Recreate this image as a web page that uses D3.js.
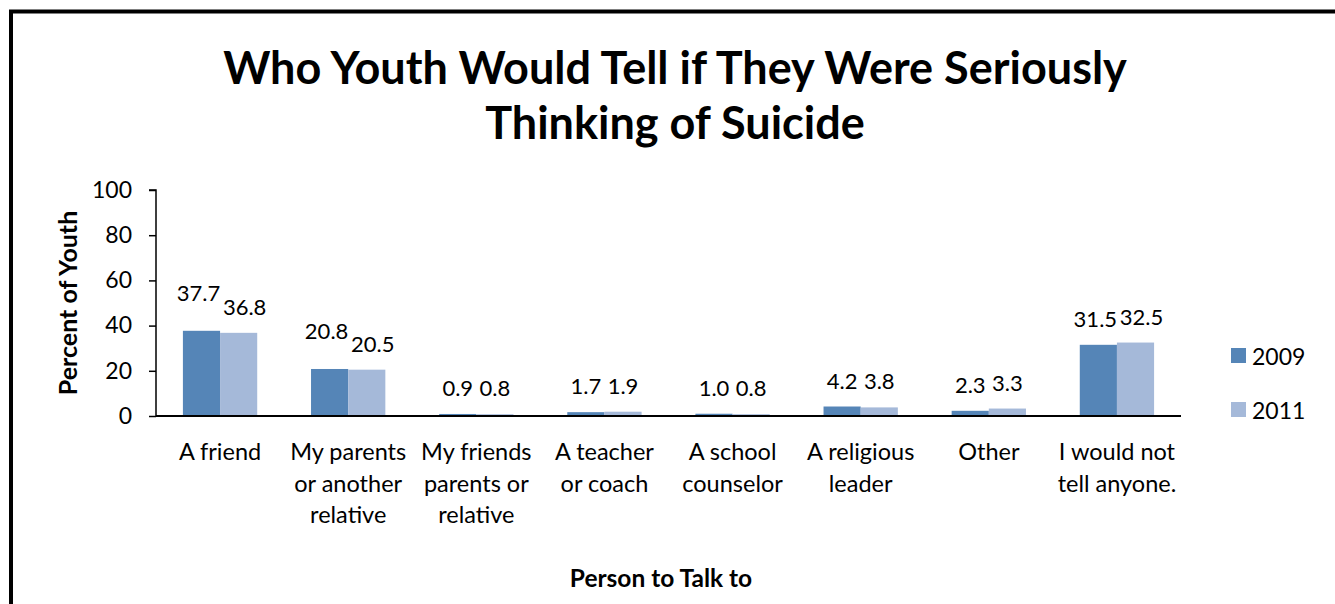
<!DOCTYPE html>
<html>
<head>
<meta charset="utf-8">
<script src="https://cdn.jsdelivr.net/npm/d3@7"></script>
<style>
  body { margin: 0; background: #fff; }
  text { font-family: Lato, "Open Sans", sans-serif; fill: #000; }
</style>
</head>
<body>
<div id="chart"></div>
<script>
var categories = [
    ["A friend"],
    ["My parents", "or another", "relative"],
    ["My friends", "parents or", "relative"],
    ["A teacher", "or coach"],
    ["A school", "counselor"],
    ["A religious", "leader"],
    ["Other"],
    ["I would not", "tell anyone."]
];
var seriesNames = ["2009", "2011"];
var values2009 = [37.7, 20.8, 0.9, 1.7, 1.0, 4.2, 2.3, 31.5];
var values2011 = [36.8, 20.5, 0.8, 1.9, 0.8, 3.8, 3.3, 32.5];
var yTicks = [0, 20, 40, 60, 80, 100];
var colors = ["#5585b7", "#a5b9d9"];

var W = 1335, H = 604;
var margin = {top: 190, left: 156, right: 154, bottom: 188};
var width = W - margin.left - margin.right,
    height = H - margin.top - margin.bottom;

var svg = d3.select("#chart").append("svg")
    .attr("width", W)
    .attr("height", H);

// frame (only top and left edges are in view)
svg.append("path")
    .attr("d", "M11,604 V11.5 H1335")
    .attr("fill", "none")
    .attr("stroke", "#000")
    .attr("stroke-width", 4);

// title
var title = svg.append("text")
    .attr("text-anchor", "middle")
    .style("font-size", "45px")
    .style("font-weight", "bold");
title.append("tspan").attr("x", 675).attr("y", 84).text("Who Youth Would Tell if They Were Seriously");
title.append("tspan").attr("x", 675).attr("y", 139).text("Thinking of Suicide");

var g = svg.append("g")
    .attr("transform", "translate(" + margin.left + "," + margin.top + ")");

var x = d3.scaleBand()
    .domain(d3.range(categories.length))
    .range([0, width])
    .paddingInner(0.42)
    .paddingOuter(0.21);
var xs = d3.scaleBand()
    .domain(seriesNames)
    .range([0, x.bandwidth()]);
var y = d3.scaleLinear()
    .domain([0, 100])
    .range([height, 0]);

// y axis
var yAxis = g.append("g")
    .call(d3.axisLeft(y).tickValues(yTicks).tickSize(7).tickPadding(17));
yAxis.select(".domain").attr("stroke", "#000").attr("stroke-width", 1.5).attr("d", "M0," + height + "V0H-7");
yAxis.selectAll(".tick line").attr("stroke", "#000").attr("stroke-width", 1.5);
yAxis.selectAll(".tick text")
    .style("font-size", "23px")
    .style("font-family", "Lato, sans-serif")
    .attr("fill", "#000");

var series = [values2009, values2011];
seriesNames.forEach(function(name, si) {
    var vals = series[si];
    g.selectAll(".bar" + si)
        .data(vals)
        .enter().append("rect")
        .attr("x", function(d, i) { return x(i) + xs(name); })
        .attr("width", xs.bandwidth())
        .attr("y", function(d) { return y(d); })
        .attr("height", function(d) { return height - y(d); })
        .attr("fill", colors[si]);
});

// x axis line
g.append("line")
    .attr("x1", 0).attr("x2", width)
    .attr("y1", height).attr("y2", height)
    .attr("stroke", "#000").attr("stroke-width", 2);

// value labels
seriesNames.forEach(function(name, si) {
    var vals = series[si];
    g.selectAll(".lbl" + si)
        .data(vals)
        .enter().append("text")
        .attr("text-anchor", "middle")
        .style("font-size", "22px")
        .attr("x", function(d, i) {
            var cx = x(i) + xs(name) + xs.bandwidth() / 2;
            // push big pairs apart a little so the labels don't touch
            if (d > 10) cx += si === 0 ? -3 : 6;
            return cx;
        })
        .attr("y", function(d, i) {
            var other = series[1 - si][i];
            var base = y(d) - 18;
            if (si === 0 && d > 10 && d >= other - 0.5) base -= 12;
            return base;
        })
        .text(function(d) { return d.toFixed(1); });
});

// category labels
var cat = g.selectAll(".cat")
    .data(categories)
    .enter().append("text")
    .attr("text-anchor", "middle")
    .style("font-size", "23.5px")
    .attr("transform", function(d, i) { return "translate(" + (x(i) + x.bandwidth() / 2) + "," + (height + 44) + ")"; });
cat.selectAll("tspan")
    .data(function(d) { return d; })
    .enter().append("tspan")
    .attr("x", 0)
    .attr("y", function(d, j) { return j * 31.5; })
    .text(function(d) { return d; });

// axis titles
svg.append("text")
    .attr("text-anchor", "middle")
    .attr("transform", "translate(77,303) rotate(-90)")
    .style("font-size", "25px")
    .style("font-weight", "bold")
    .text("Percent of Youth");

svg.append("text")
    .attr("text-anchor", "middle")
    .attr("x", 661)
    .attr("y", 587)
    .style("font-size", "24.5px")
    .style("font-weight", "bold")
    .text("Person to Talk to");

// legend
var legend = svg.selectAll(".legend")
    .data(seriesNames)
    .enter().append("g")
    .attr("transform", function(d, i) { return "translate(1231," + (348 + i * 54) + ")"; });
legend.append("rect")
    .attr("width", 15).attr("height", 15)
    .attr("fill", function(d, i) { return colors[i]; });
legend.append("text")
    .attr("x", 21).attr("y", 17)
    .style("font-size", "23px")
    .text(function(d) { return d; });
</script>
</body>
</html>
